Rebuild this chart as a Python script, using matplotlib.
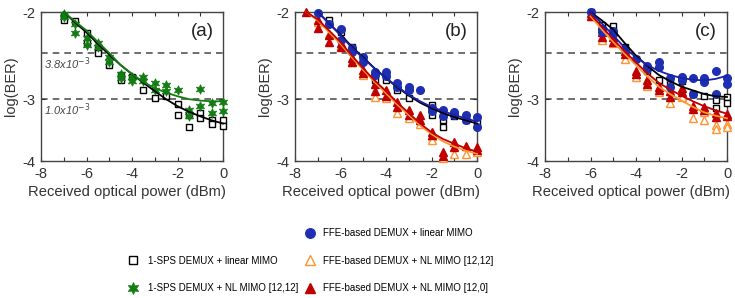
import numpy as np
import matplotlib
matplotlib.use("Agg")
import matplotlib.pyplot as plt
from matplotlib.lines import Line2D
from matplotlib.ticker import NullLocator, MultipleLocator

plt.rcParams['font.family'] = ['Liberation Sans', 'DejaVu Sans']

# ---------------- data: log10(BER) ----------------
# panel (a)
a_sq_x = [-7, -7, -6.5, -6, -6, -5.5, -5.5, -5, -4.5, -4.5, -4, -3.5, -3, -2.5, -2, -2, -1.5, -1.5, -1, -1, -0.5, -0.5, 0, 0]
a_sq_y = [-2.04, -2.08, -2.09, -2.21, -2.31, -2.38, -2.42, -2.56, -2.68, -2.74, -2.70, -2.88, -2.98, -2.95, -3.07, -3.23, -3.23, -3.41, -3.20, -3.28, -3.30, -3.37, -3.31, -3.40]
a_st_x = [-7, -7, -6.5, -6.5, -6, -6, -5.5, -5.5, -5, -5, -4.5, -4.5, -4, -4, -3.5, -3.5, -3, -3, -2.5, -2.5, -2, -1.5, -1.5, -1, -1, -0.5, -0.5, 0, 0]
a_st_y = [-2.02, -2.05, -2.11, -2.21, -2.26, -2.33, -2.31, -2.35, -2.46, -2.52, -2.67, -2.72, -2.71, -2.76, -2.71, -2.76, -2.78, -2.87, -2.81, -2.89, -2.87, -3.16, -3.25, -2.86, -3.10, -3.06, -3.20, -3.04, -3.17]
a_fit_x = [-7, -6.5, -6, -5.5, -5, -4.5, -4, -3.5, -3, -2.5, -2, -1.5, -1, -0.5, 0]
a_fit_sq = [-2.0, -2.10, -2.20, -2.32, -2.44, -2.56, -2.67, -2.78, -2.89, -3.00, -3.10, -3.18, -3.25, -3.31, -3.36]
a_fit_st = [-2.0, -2.09, -2.18, -2.30, -2.42, -2.56, -2.67, -2.77, -2.85, -2.91, -2.96, -3.00, -3.02, -3.03, -3.03]

# panel (b)
b_ci_x = [-7, -6.5, -6, -6, -5.5, -5.5, -5, -5, -4.5, -4.5, -4, -4, -3.5, -3.5, -3, -3, -2.5, -2, -2, -1.5, -1.5, -1, -1, -0.5, -0.5, 0, 0]
b_ci_y = [-2.01, -2.11, -2.16, -2.28, -2.37, -2.41, -2.46, -2.52, -2.64, -2.68, -2.65, -2.69, -2.78, -2.83, -2.84, -2.88, -2.88, -3.12, -3.17, -3.15, -3.24, -3.19, -3.23, -3.23, -3.30, -3.26, -3.41]
b_sq_x = [-6.5, -6, -5.5, -5, -4.5, -4, -3.5, -3, -2, -2, -1.5, -1.5, -1, -0.5, 0]
b_sq_y = [-2.08, -2.20, -2.35, -2.49, -2.74, -2.74, -2.87, -2.99, -3.08, -3.23, -3.42, -3.30, -3.25, -3.30, -3.33]
b_rt_x = [-7.5, -7, -7, -6.5, -6.5, -6, -6, -5.5, -5.5, -5, -5, -4.5, -4.5, -4, -4, -3.5, -3.5, -3, -3, -2.5, -2.5, -2, -2, -1.5, -1.5, -1, -1, -0.5, 0, 0]
b_rt_y = [-2.0, -2.08, -2.15, -2.23, -2.30, -2.31, -2.35, -2.48, -2.52, -2.62, -2.66, -2.79, -2.89, -2.87, -2.96, -3.04, -3.11, -3.15, -3.23, -3.23, -3.30, -3.49, -3.54, -3.83, -3.91, -3.66, -3.74, -3.73, -3.74, -3.80]
b_ot_x = [-7, -6.5, -6, -5.5, -5, -4.5, -4, -3.5, -3, -2.5, -2, -2, -1.5, -1, -0.5, 0]
b_ot_y = [-2.10, -2.22, -2.33, -2.52, -2.68, -2.97, -2.99, -3.20, -3.28, -3.36, -3.56, -3.62, -3.94, -3.88, -3.88, -3.83]
b_fit_x = [-7, -6.5, -6, -5.5, -5, -4.5, -4, -3.5, -3, -2.5, -2, -1.5, -1, -0.5, 0]
b_fit_ci = [-2.0, -2.11, -2.23, -2.36, -2.48, -2.60, -2.72, -2.83, -2.94, -3.03, -3.11, -3.17, -3.23, -3.28, -3.33]
b_fit_sq = [-2.0, -2.11, -2.22, -2.35, -2.47, -2.60, -2.72, -2.84, -2.95, -3.05, -3.13, -3.20, -3.26, -3.31, -3.36]
b_fit2_x = [-7.5, -7, -6.5, -6, -5.5, -5, -4.5, -4, -3.5, -3, -2.5, -2, -1.5, -1, -0.5, 0]
b_fit_rt = [-2.0, -2.07, -2.18, -2.30, -2.45, -2.60, -2.75, -2.89, -3.05, -3.20, -3.36, -3.50, -3.61, -3.69, -3.77, -3.83]
b_fit_ot = [-2.0, -2.08, -2.20, -2.32, -2.47, -2.62, -2.77, -2.92, -3.08, -3.23, -3.39, -3.53, -3.65, -3.74, -3.81, -3.87]

# panel (c)
c_ci_x = [-6, -5.5, -5.5, -5, -5, -4.5, -4, -3.5, -3.5, -3, -3, -2.5, -2.5, -2, -2, -1.5, -1.5, -1, -1, -0.5, -0.5, 0, 0]
c_ci_y = [-2.0, -2.16, -2.20, -2.18, -2.22, -2.38, -2.49, -2.57, -2.61, -2.52, -2.58, -2.72, -2.83, -2.70, -2.74, -2.72, -2.93, -2.72, -2.77, -2.63, -2.93, -2.72, -2.80]
c_sq_x = [-6, -5.5, -5, -4.5, -4, -3.5, -3, -2.5, -2, -1.5, -1, -0.5, -0.5, 0, 0]
c_sq_y = [-2.0, -2.12, -2.13, -2.35, -2.49, -2.63, -2.74, -2.76, -2.76, -2.93, -2.95, -3.01, -3.13, -2.97, -3.06]
c_rt_x = [-6, -6, -5.5, -5.5, -5, -5, -4.5, -4.5, -4, -4, -3.5, -3.5, -3, -3, -2.5, -2.5, -2, -2, -1.5, -1.5, -1, -1, -0.5, -0.5, 0, 0]
c_rt_y = [-2.01, -2.04, -2.20, -2.25, -2.25, -2.30, -2.40, -2.43, -2.63, -2.67, -2.75, -2.80, -2.83, -2.87, -2.89, -2.97, -2.85, -2.90, -3.09, -3.14, -3.11, -3.16, -3.20, -3.26, -3.21, -3.25]
c_ot_x = [-6, -5.5, -5, -4.5, -4, -3.5, -3, -2.5, -2, -1.5, -1, -1, -0.5, -0.5, 0, 0]
c_ot_y = [-2.04, -2.28, -2.31, -2.49, -2.71, -2.82, -2.90, -3.06, -2.97, -3.28, -3.19, -3.31, -3.38, -3.44, -3.37, -3.42]
c_fit_x = [-6, -5.5, -5, -4.5, -4, -3.5, -3, -2.5, -2, -1.5, -1, -0.5, 0]
c_fit_ci = [-2.0, -2.11, -2.23, -2.36, -2.47, -2.56, -2.63, -2.68, -2.72, -2.74, -2.75, -2.73, -2.69]
c_fit_sq = [-2.0, -2.08, -2.17, -2.31, -2.45, -2.57, -2.68, -2.76, -2.83, -2.88, -2.93, -2.96, -2.97]
c_fit_rt = [-2.02, -2.14, -2.27, -2.40, -2.53, -2.66, -2.78, -2.87, -2.95, -3.03, -3.10, -3.16, -3.21]
c_fit_ot = [-2.04, -2.17, -2.30, -2.43, -2.56, -2.70, -2.83, -2.93, -3.02, -3.11, -3.19, -3.24, -3.28]

thresholds = [3.8e-3, 1.0e-3]
threshold_labels = ['3.8x10$^{-3}$', '1.0x10$^{-3}$']
x_ticks = [-8, -6, -4, -2, 0]
y_ticks = [-2, -3, -4]
panel_labels = ['(a)', '(b)', '(c)']

legend_labels = ['1-SPS DEMUX + linear MIMO', '1-SPS DEMUX + NL MIMO [12,12]',
                 'FFE-based DEMUX + linear MIMO', 'FFE-based DEMUX + NL MIMO [12,12]',
                 'FFE-based DEMUX + NL MIMO [12,0]']

# ---------------- styles ----------------
GREEN = '#137d13'
BLUE = '#1f2fb4'
RED = '#c00000'
ORANGE = '#ff9430'
star6 = (6, 1, 0)

sty = {
    'sq': dict(marker='s', ms=4.5, mfc='white', mec='black', mew=1.0, ls='none'),
    'st': dict(marker=star6, ms=7, mfc=GREEN, mec=GREEN, mew=0.5, ls='none'),
    'ci': dict(marker='o', ms=5.5, mfc=BLUE, mec=BLUE, ls='none'),
    'ot': dict(marker='^', ms=6, mfc='white', mec=ORANGE, mew=1.0, ls='none'),
    'rt': dict(marker='^', ms=6, mfc=RED, mec=RED, ls='none'),
}
line_col = {'sq': 'black', 'st': GREEN, 'ci': '#1a22a8', 'ot': ORANGE, 'rt': RED}

fig = plt.figure(figsize=(7.35, 2.98), dpi=100)
W, H = 735, 298
lefts = [41, 295, 545]
axw, top, bot = 182, 12, 161
axes = [fig.add_axes([l / W, 1 - bot / H, axw / W, (bot - top) / H]) for l in lefts]


def tr(v):
    return -np.asarray(v, dtype=float)


def pts(ax, x, y, key):
    ax.plot(x, tr(y), clip_on=False, zorder=3, **sty[key])


def fit(ax, x, y, key):
    ax.plot(x, tr(y), color=line_col[key], lw=1.3, zorder=4, clip_on=False)


for i, ax in enumerate(axes):
    ax.set_yscale('log')
    ax.set_ylim(4, 2)
    ax.set_xlim(-8, 0)
    ax.set_yticks(tr(y_ticks))
    ax.set_yticklabels([str(t) for t in y_ticks], fontsize=10.5)
    ax.yaxis.set_minor_locator(NullLocator())
    ax.set_xticks(x_ticks)
    ax.set_xticklabels([str(t) for t in x_ticks], fontsize=10.5)
    ax.xaxis.set_minor_locator(MultipleLocator(1))
    ax.tick_params(which='both', direction='in', top=True, right=True, length=3, width=0.8,
                   colors='#333333', labelcolor='#333333')
    ax.tick_params(axis='both', pad=4)
    for s in ax.spines.values():
        s.set_color('#444444')
        s.set_linewidth(1.0)
    for t in thresholds:
        ax.axhline(-np.log10(t), color='#555555', lw=1.2, ls=(0, (4, 3)), zorder=1)
    ax.set_ylabel('log(BER)', fontsize=10.5, color='#333333', labelpad=3)
    ax.text(0.885, 0.87, panel_labels[i], transform=ax.transAxes, fontsize=13.5,
            ha='center', va='center', color='#222222')
    ax.text(0.47, -0.158, 'Received optical power (dBm)', transform=ax.transAxes,
            fontsize=10.6, color='#333333', ha='center', va='top')

# panel a
ax = axes[0]
pts(ax, a_sq_x, a_sq_y, 'sq')
pts(ax, a_st_x, a_st_y, 'st')
fit(ax, a_fit_x, a_fit_sq, 'sq')
fit(ax, a_fit_x, a_fit_st, 'st')
for t, lab in zip(thresholds, threshold_labels):
    ax.text(-7.85, -np.log10(t) * 1.012, lab, fontsize=8, style='italic', color='#444444',
            ha='left', va='top')

# panel b
ax = axes[1]
pts(ax, b_sq_x, b_sq_y, 'sq')
pts(ax, b_ot_x, b_ot_y, 'ot')
pts(ax, b_rt_x, b_rt_y, 'rt')
pts(ax, b_ci_x, b_ci_y, 'ci')
fit(ax, b_fit2_x, b_fit_ot, 'ot')
fit(ax, b_fit2_x, b_fit_rt, 'rt')
fit(ax, b_fit_x, b_fit_sq, 'sq')
fit(ax, b_fit_x, b_fit_ci, 'ci')

# panel c
ax = axes[2]
pts(ax, c_sq_x, c_sq_y, 'sq')
pts(ax, c_ot_x, c_ot_y, 'ot')
pts(ax, c_rt_x, c_rt_y, 'rt')
pts(ax, c_ci_x, c_ci_y, 'ci')
fit(ax, c_fit_x, c_fit_ot, 'ot')
fit(ax, c_fit_x, c_fit_rt, 'rt')
fit(ax, c_fit_x, c_fit_sq, 'sq')
fit(ax, c_fit_x, c_fit_ci, 'ci')

# legends
blank = Line2D([], [], ls='none', marker='none')
hd = lambda k: Line2D([], [], **sty[k])
fs_leg = 7.0
common = dict(frameon=False, fontsize=fs_leg, labelspacing=1.8, borderpad=0,
              handlelength=1.1, borderaxespad=0, loc='center left', markerscale=1.25)
fig.legend([blank, hd('sq'), hd('st')], [''] + legend_labels[:2],
           bbox_to_anchor=(127.6 / W, 1 - 260.5 / H), handletextpad=0.95, **common)
fig.legend([hd('ci'), hd('ot'), hd('rt')], legend_labels[2:],
           bbox_to_anchor=(304.6 / W, 1 - 260.5 / H), handletextpad=0.75, **common)

fig.savefig('out.png', dpi=100)
